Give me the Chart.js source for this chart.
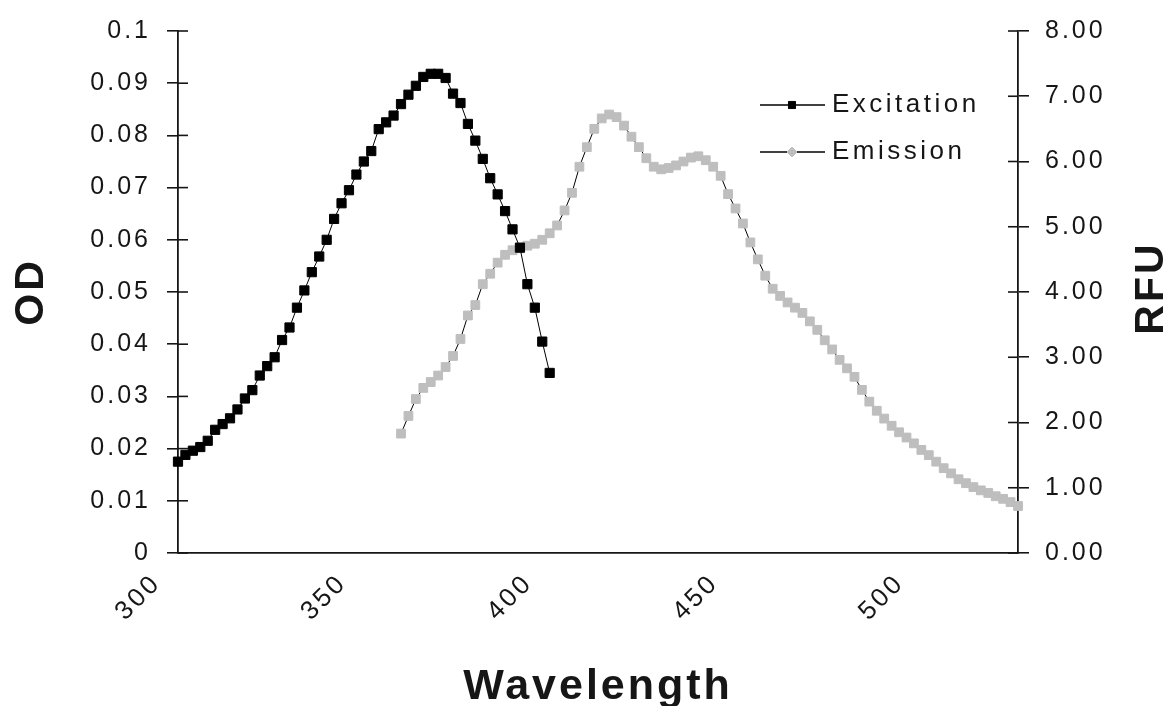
<!DOCTYPE html>
<html>
<head>
<meta charset="utf-8">
<script src="https://cdn.jsdelivr.net/npm/chart.js@4.4.1/dist/chart.umd.min.js"></script>
<style>
  html, body { margin: 0; padding: 0; background: #fff; }
  #wrap { width: 1168px; height: 706px; position: relative; }
</style>
</head>
<body>
<div id="wrap"><canvas id="spectraChart"></canvas></div>
<script>
// values
const excitationNm = [300, 302, 304, 306, 308, 310, 312, 314, 316, 318, 320, 322, 324, 326, 328, 330, 332, 334, 336, 338,
  340, 342, 344, 346, 348, 350, 352, 354, 356, 358, 360, 362, 364, 366, 368, 370, 372, 374, 376, 378,
  380, 382, 384, 386, 388, 390, 392, 394, 396, 398, 400];
const excitationOD = [0.0175, 0.0188, 0.0196, 0.0203, 0.0215, 0.0236, 0.0247, 0.0258, 0.0275, 0.0296,
  0.0312, 0.0340, 0.0358, 0.0375, 0.0408, 0.0432, 0.0470, 0.0503, 0.0538, 0.0568,
  0.0600, 0.0640, 0.0670, 0.0695, 0.0725, 0.0750, 0.0770, 0.0812, 0.0825, 0.0838,
  0.0860, 0.0878, 0.0895, 0.0912, 0.0918, 0.0918, 0.0910, 0.0880, 0.0862, 0.0822,
  0.0790, 0.0755, 0.0718, 0.0687, 0.0655, 0.0620, 0.0585, 0.0515, 0.0470, 0.0405,
  0.0345];

const emissionNm = [360, 362, 364, 366, 368, 370, 372, 374, 376, 378, 380, 382, 384, 386, 388, 390, 392, 394, 396, 398,
  400, 402, 404, 406, 408, 410, 412, 414, 416, 418, 420, 422, 424, 426, 428, 430, 432, 434, 436, 438,
  440, 442, 444, 446, 448, 450, 452, 454, 456, 458, 460, 462, 464, 466, 468, 470, 472, 474, 476, 478,
  480, 482, 484, 486, 488, 490, 492, 494, 496, 498, 500, 502, 504, 506, 508, 510, 512, 514, 516, 518,
  520, 522, 524, 526];
const emissionRFU = [1.83, 2.10, 2.36, 2.53, 2.62, 2.72, 2.85, 3.02, 3.28, 3.64,
  3.80, 4.12, 4.28, 4.45, 4.57, 4.64, 4.67, 4.71, 4.74, 4.80,
  4.90, 5.02, 5.25, 5.52, 5.92, 6.22, 6.50, 6.66, 6.72, 6.68,
  6.55, 6.38, 6.22, 6.05, 5.92, 5.88, 5.90, 5.94, 6.00, 6.06,
  6.08, 6.02, 5.92, 5.78, 5.50, 5.28, 5.05, 4.76, 4.50, 4.25,
  4.05, 3.94, 3.84, 3.76, 3.68, 3.55, 3.42, 3.26, 3.12, 2.96,
  2.83, 2.70, 2.50, 2.32, 2.18, 2.06, 1.95, 1.85, 1.77, 1.68,
  1.58, 1.50, 1.40, 1.30, 1.22, 1.13, 1.07, 1.01, 0.96, 0.92,
  0.87, 0.83, 0.78, 0.72];

const wavelengthTicks = [300, 350, 400, 450, 500];
const odTickLabels = ['0', '0.01', '0.02', '0.03', '0.04', '0.05', '0.06', '0.07', '0.08', '0.09', '0.1'];
const rfuTickLabels = ['0.00', '1.00', '2.00', '3.00', '4.00', '5.00', '6.00', '7.00', '8.00'];
const seriesNames = ['Excitation', 'Emission'];

const ink = '#161616';
const fontFamily = "'Liberation Sans', Arial, sans-serif";
Chart.defaults.font.family = fontFamily;
Chart.defaults.color = ink;

// canvas letter spacing, the original text is quite spread out
const spacing = {
    id: 'spacing',
    beforeUpdate(chart) { chart.ctx.letterSpacing = '3px'; },
    beforeDraw(chart) { chart.ctx.letterSpacing = '3px'; }
};

// Excel-style ticks that cross the value axes
const innerTicks = {
    id: 'innerTicks',
    afterDraw(chart) {
        const { ctx, chartArea } = chart;
        ctx.save();
        ctx.strokeStyle = ink;
        ctx.lineWidth = 1.6;
        ['yOD', 'yRFU'].forEach(id => {
            const s = chart.scales[id];
            const edge = s.position === 'left' ? chartArea.left : chartArea.right;
            const dir = s.position === 'left' ? 1 : -1;
            s.ticks.forEach(t => {
                const py = s.getPixelForValue(t.value);
                ctx.beginPath();
                ctx.moveTo(edge, py);
                ctx.lineTo(edge + dir * 10, py);
                ctx.stroke();
            });
        });
        ctx.restore();
    }
};

// legend sits inside the plot, top right; RFU title reads bottom-to-top
const insideLegend = {
    id: 'insideLegend',
    afterDraw(chart) {
        const { ctx, chartArea } = chart;
        const rows = [chartArea.top + 74, chartArea.top + 121];
        const x0 = chartArea.right - 258;
        const markers = ['rect', 'rectRot'];
        chart.data.datasets.forEach((ds, i) => {
            const y = rows[i];
            ctx.save();
            ctx.strokeStyle = ds.borderColor;
            ctx.lineWidth = 1.5;
            ctx.beginPath();
            ctx.moveTo(x0, y);
            ctx.lineTo(x0 + 65, y);
            ctx.stroke();
            ctx.fillStyle = ds.pointBackgroundColor;
            ctx.strokeStyle = ds.pointBorderColor;
            ctx.lineWidth = 1;
            Chart.helpers.drawPoint(ctx, { pointStyle: markers[i], radius: 5, borderWidth: 1, rotation: 0 }, x0 + 32, y);
            ctx.letterSpacing = '3.5px';
            ctx.fillStyle = ink;
            ctx.font = '26px ' + fontFamily;
            ctx.textAlign = 'left';
            ctx.textBaseline = 'middle';
            ctx.fillText(ds.label, x0 + 72, y);
            ctx.restore();
        });

        const r = chart.scales.yRFU;
        ctx.save();
        ctx.letterSpacing = '3px';
        ctx.translate(r.right - 16, (chartArea.top + chartArea.bottom) / 2 - 4);
        ctx.rotate(-Math.PI / 2);
        ctx.fillStyle = ink;
        ctx.font = 'bold 41px ' + fontFamily;
        ctx.textAlign = 'center';
        ctx.textBaseline = 'middle';
        ctx.fillText('RFU', 0, 0);
        ctx.restore();
    }
};

document.addEventListener('DOMContentLoaded', () => {
    const ctx = document.getElementById('spectraChart').getContext('2d');
    new Chart(ctx, {
        type: 'line',
        data: {
            datasets: [{
                label: seriesNames[0],
                data: excitationNm.map((nm, i) => ({ x: nm, y: excitationOD[i] })),
                yAxisID: 'yOD',
                borderColor: '#000',
                borderWidth: 1,
                pointStyle: 'rect',
                pointRadius: 6.5,
                pointBackgroundColor: '#000',
                pointBorderColor: '#000',
                pointBorderWidth: 1,
                tension: 0,
                clip: false
            }, {
                label: seriesNames[1],
                data: emissionNm.map((nm, i) => ({ x: nm, y: emissionRFU[i] })),
                yAxisID: 'yRFU',
                borderColor: '#000',
                borderWidth: 1,
                pointStyle: 'rect',
                pointRadius: 6.2,
                pointBackgroundColor: '#bebebe',
                pointBorderColor: '#bebebe',
                pointBorderWidth: 1,
                tension: 0,
                clip: false
            }]
        },
        options: {
            responsive: true,
            maintainAspectRatio: false,
            animation: false,
            layout: { padding: { top: 29, left: 0, right: 0, bottom: 0 } },
            plugins: { legend: { display: false }, tooltip: { enabled: false } },
            scales: {
                x: {
                    type: 'linear',
                    min: 300,
                    max: 526,
                    afterBuildTicks: s => { s.ticks = wavelengthTicks.map(v => ({ value: v })); },
                    afterFit: s => { s.height = 153; },
                    grid: { drawOnChartArea: false, drawTicks: false, color: ink },
                    border: { color: ink, width: 1.8 },
                    ticks: { minRotation: 45, maxRotation: 45, autoSkip: false, padding: 15, labelOffset: -21, font: { size: 26 }, color: ink },
                    title: { display: true, text: 'Wavelength', color: ink, font: { size: 43, weight: 'bold', lineHeight: 0.8 }, padding: { top: 0, bottom: 2 } }
                },
                yOD: {
                    type: 'linear',
                    position: 'left',
                    min: 0,
                    max: 0.1,
                    afterBuildTicks: s => { s.ticks = odTickLabels.map(t => ({ value: parseFloat(t) })); },
                    afterFit: s => { s.width = 178; },
                    grid: { drawOnChartArea: false, tickLength: 11, color: ink, lineWidth: 1.6 },
                    border: { color: ink, width: 1.8 },
                    ticks: { callback: (v, i) => odTickLabels[i], padding: 16, font: { size: 25 }, color: ink },
                    title: { display: true, text: 'OD', color: ink, font: { size: 41, weight: 'bold', lineHeight: 0.8 }, padding: { top: 15, bottom: 0 } }
                },
                yRFU: {
                    type: 'linear',
                    position: 'right',
                    min: 0,
                    max: 8,
                    afterBuildTicks: s => { s.ticks = rfuTickLabels.map(t => ({ value: parseFloat(t) })); },
                    afterFit: s => { s.width = 150; },
                    grid: { drawOnChartArea: false, tickLength: 11, color: ink, lineWidth: 1.6 },
                    border: { color: ink, width: 1.8 },
                    ticks: { callback: (v, i) => rfuTickLabels[i], padding: 16, font: { size: 25 }, color: ink }
                }
            }
        },
        plugins: [spacing, innerTicks, insideLegend]
    });
});
</script>
</body>
</html>
